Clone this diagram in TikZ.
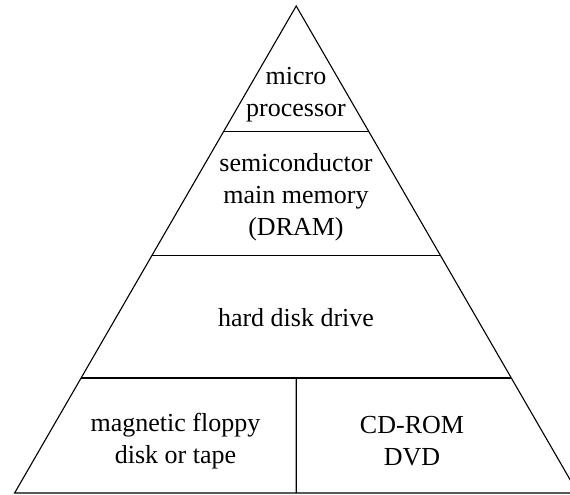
\documentclass[tikz,border=0pt]{standalone}
\usepackage{fontspec}
\setmainfont{Liberation Serif}
\usetikzlibrary{calc}
\begin{document}
\begin{tikzpicture}[x=1pt,y=-1pt,
  edge/.style={draw=black,line width=1.1pt},
  lbl/.style={align=center,inner sep=0pt,font=\fontsize{26}{32}\selectfont}]
\useasboundingbox (0,0) rectangle (570,495);
\begin{scope}
\clip (0,0) rectangle (570,495);
\coordinate (apex) at (296.2,6);
\coordinate (L) at (14.6,493);
\coordinate (R) at (577.8,493);
\draw[edge,line join=miter] (apex) -- (L) -- (R) -- cycle;
\coordinate (l1) at ($(apex)!0.2577!(L)$);
\coordinate (r1) at ($(apex)!0.2577!(R)$);
\coordinate (l2) at ($(apex)!0.5127!(L)$);
\coordinate (r2) at ($(apex)!0.5127!(R)$);
\coordinate (l3) at ($(apex)!0.7639!(L)$);
\coordinate (r3) at ($(apex)!0.7639!(R)$);
\coordinate (m3) at ($(l3)!0.5!(r3)$);
\coordinate (mb) at ($(L)!0.5!(R)$);
\draw[edge] (l1) -- (r1);
\draw[edge] (l2) -- (r2);
\draw[edge] (l3) -- (r3);
\draw[edge] (m3) -- (mb);
\end{scope}
\node[lbl] (cpu) at (296,95) {micro\\processor};
\node[lbl] (dram) at (296,197) {semiconductor\\main memory\\(DRAM)};
\node[lbl] (hdd) at (296,318) {hard disk drive};
\node[lbl] (floppy) at (175.5,441) {magnetic floppy\\disk or tape};
\node[lbl] (cd) at (412,441) {CD-ROM\\DVD};
\end{tikzpicture}
\end{document}
